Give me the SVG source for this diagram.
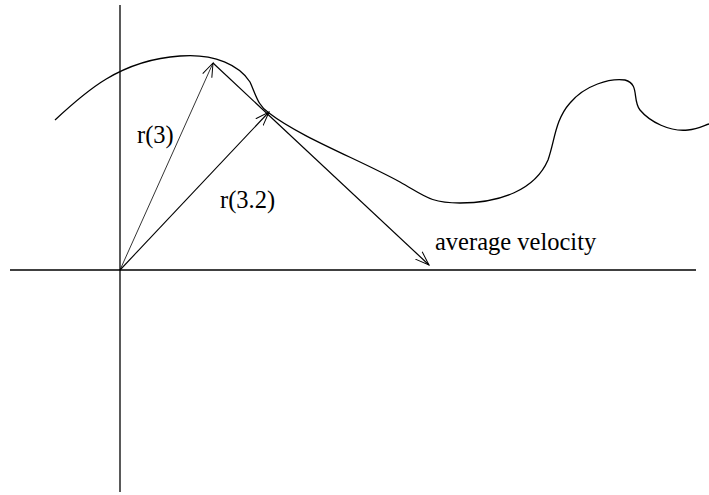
<svg xmlns="http://www.w3.org/2000/svg" width="709" height="495" viewBox="0 0 709 495">
<style>
.ax{stroke:#000;stroke-width:1.3;fill:none}
.cv{stroke:#000;stroke-width:1.3;fill:none}
.ar{stroke:#000;fill:none}
text{font-family:"Liberation Serif","Times New Roman",serif;font-size:24.5px;fill:#000}
</style>
<defs>
<marker id="v" markerUnits="userSpaceOnUse" markerWidth="20" markerHeight="20" refX="14" refY="6" orient="auto" viewBox="0 0 20 12">
<polyline points="0,1 14,6 0,11" fill="none" stroke="#000" stroke-width="1"/>
</marker>
</defs>
<g id="axes">
<line class="ax" x1="120" y1="5" x2="120" y2="492"/>
<line class="ax" x1="10" y1="270" x2="696" y2="270"/>
</g>
<g id="curve">
<path class="cv" d="M55,120 C85,92 120,60 180,56 C215,53 240,66 250,82 C256,95 258,106 269,113 C300,137 360,160 400,182 C425,196 430,203 460,203 C500,203 535,190 548,160 C555,140 555,120 570,103 C585,85 610,78 625,80 C640,84 632,100 640,110 C650,122 670,132 688,130 C698,129 705,125 709,124"/>
</g>
<g id="connectors">
<line class="ar" x1="120" y1="270" x2="213" y2="63" stroke-width="0.8" marker-end="url(#v)"/>
<line class="ar" x1="120" y1="270" x2="269" y2="112" stroke-width="1.1" marker-end="url(#v)"/>
<line class="ar" x1="213" y1="63" x2="429" y2="265" stroke-width="1.2" marker-end="url(#v)"/>
</g>
<g id="labels">
<text x="137" y="143">r(3)</text>
<text x="220" y="208">r(3.2)</text>
<text x="435" y="250">average velocity</text>
</g>
</svg>
